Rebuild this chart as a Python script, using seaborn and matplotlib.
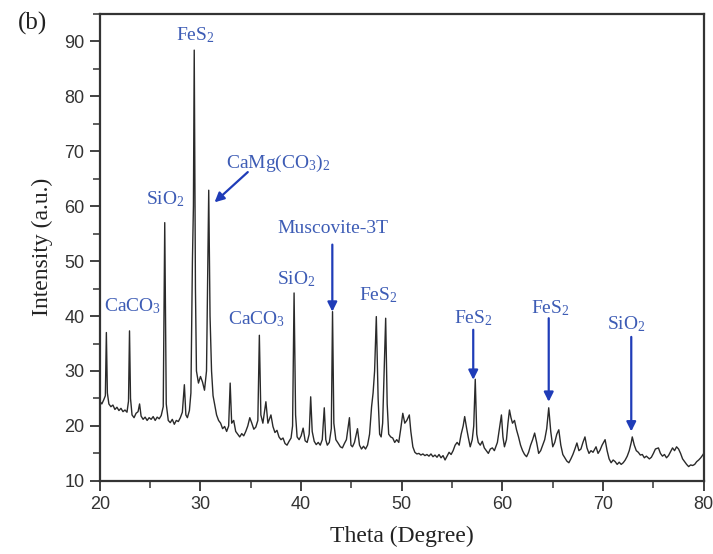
import numpy as np
import pandas as pd
import matplotlib
matplotlib.use("Agg")
import matplotlib.pyplot as plt
import seaborn as sns
from matplotlib.ticker import MultipleLocator

# ---------------- data ----------------
theta = [
    20.0, 20.2, 20.4, 20.55, 20.65, 20.75, 20.9, 21.1, 21.3, 21.5, 21.7, 21.9, 22.1, 22.3, 22.5, 22.7,
    22.85, 22.95, 23.05, 23.2, 23.4, 23.6, 23.8, 23.95, 24.1, 24.3, 24.5, 24.7, 24.9, 25.1, 25.3, 25.5,
    25.7, 25.9, 26.1, 26.3, 26.45, 26.6, 26.8, 27.0, 27.2, 27.4, 27.6, 27.8, 28.0, 28.2, 28.4, 28.55,
    28.7, 28.9, 29.05, 29.2, 29.3, 29.38, 29.5, 29.6, 29.8, 30.0, 30.2, 30.4, 30.6, 30.7, 30.82, 30.95,
    31.1, 31.25, 31.4, 31.6, 31.8, 32.0, 32.2, 32.4, 32.6, 32.8, 32.95, 33.1, 33.3, 33.5, 33.7, 33.9,
    34.1, 34.3, 34.5, 34.7, 34.9, 35.1, 35.3, 35.5, 35.7, 35.85, 36.0, 36.2, 36.5, 36.7, 36.9, 37.0,
    37.2, 37.4, 37.6, 37.8, 38.0, 38.2, 38.4, 38.6, 38.8, 39.0, 39.15, 39.3, 39.45, 39.6, 39.8, 40.0,
    40.2, 40.4, 40.6, 40.8, 40.95, 41.1, 41.3, 41.5, 41.7, 41.9, 42.1, 42.3, 42.45, 42.6, 42.8, 43.0,
    43.12, 43.25, 43.45, 43.7, 43.9, 44.1, 44.3, 44.5, 44.8, 44.95, 45.1, 45.3, 45.6, 45.8, 46.0, 46.2,
    46.4, 46.6, 46.8, 47.0, 47.15, 47.3, 47.47, 47.65, 47.8, 47.95, 48.1, 48.25, 48.4, 48.55, 48.7, 48.9,
    49.1, 49.3, 49.5, 49.7, 49.9, 50.1, 50.3, 50.5, 50.75, 50.9, 51.1, 51.3, 51.5, 51.7, 51.9, 52.1,
    52.3, 52.5, 52.7, 52.9, 53.1, 53.3, 53.5, 53.7, 53.9, 54.1, 54.3, 54.5, 54.7, 54.9, 55.1, 55.3,
    55.5, 55.7, 55.9, 56.1, 56.25, 56.45, 56.6, 56.8, 57.0, 57.15, 57.3, 57.45, 57.6, 57.8, 58.0, 58.2,
    58.4, 58.6, 58.8, 59.0, 59.2, 59.5, 59.7, 59.9, 60.05, 60.2, 60.4, 60.55, 60.7, 60.85, 61.0, 61.2,
    61.4, 61.6, 61.8, 62.0, 62.2, 62.4, 62.6, 62.8, 63.0, 63.2, 63.4, 63.6, 63.8, 64.0, 64.2, 64.4,
    64.6, 64.8, 65.0, 65.2, 65.4, 65.6, 65.8, 66.0, 66.2, 66.4, 66.6, 66.8, 67.0, 67.2, 67.4, 67.6,
    67.8, 68.0, 68.2, 68.4, 68.6, 68.8, 69.0, 69.3, 69.5, 69.7, 69.9, 70.2, 70.4, 70.6, 70.8, 71.0,
    71.2, 71.4, 71.6, 71.8, 72.0, 72.2, 72.4, 72.6, 72.8, 72.9, 73.1, 73.3, 73.5, 73.7, 73.9, 74.1,
    74.3, 74.6, 74.8, 75.0, 75.2, 75.5, 75.7, 75.9, 76.1, 76.3, 76.5, 76.7, 76.9, 77.1, 77.3, 77.5,
    77.7, 77.9, 78.1, 78.3, 78.5, 78.7, 78.9, 79.1, 79.3, 79.5, 79.7, 79.9, 80.0,
]
intensity = [
    24.5, 24.0, 24.8, 25.5, 37.0, 26.0, 24.0, 23.5, 23.8, 23.0, 23.4, 22.8, 23.2, 22.6, 22.9, 22.5,
    24.5, 37.3, 25.0, 22.0, 21.5, 22.3, 22.6, 24.0, 21.8, 21.2, 21.6, 21.0, 21.5, 21.2, 21.7, 21.0,
    21.6, 21.3, 21.9, 23.5, 57.0, 24.0, 21.0, 20.6, 21.2, 20.3, 21.0, 20.8, 21.5, 22.5, 27.5, 22.0,
    21.5, 22.8, 26.0, 50.0, 60.0, 88.4, 45.0, 30.0, 27.8, 29.0, 28.0, 26.5, 30.0, 45.0, 62.9, 40.0,
    30.0, 25.5, 24.0, 22.0, 21.0, 20.5, 19.5, 19.9, 19.0, 20.0, 27.8, 20.5, 21.0, 19.0, 18.5, 18.0,
    18.6, 18.2, 19.0, 20.0, 21.5, 20.5, 19.4, 19.8, 21.0, 36.5, 22.0, 20.5, 24.4, 20.5, 21.5, 22.0,
    19.9, 18.8, 19.2, 18.0, 17.5, 17.8, 16.8, 16.5, 17.2, 17.8, 20.0, 44.2, 22.0, 18.0, 17.5, 18.2,
    19.6, 17.3, 17.0, 18.5, 25.3, 19.0, 17.2, 16.6, 17.0, 16.5, 17.5, 23.3, 17.5, 16.5, 17.0, 19.5,
    40.8, 20.5, 17.5, 16.8, 16.2, 16.0, 16.8, 17.5, 21.5, 16.5, 16.2, 17.0, 19.5, 16.5, 15.8, 16.3,
    15.8, 16.5, 18.5, 23.5, 26.0, 30.0, 39.9, 25.0, 18.5, 18.0, 20.5, 30.0, 39.6, 24.0, 18.5, 18.0,
    17.8, 17.0, 17.5, 17.0, 19.5, 22.3, 20.5, 21.0, 22.0, 19.0, 16.2, 15.2, 14.9, 15.0, 14.7, 14.9,
    14.6, 14.8, 14.5, 14.9, 14.4, 14.7, 14.3, 14.8, 14.2, 14.6, 13.8, 14.5, 15.2, 14.8, 15.5, 16.5,
    17.0, 16.5, 18.5, 20.0, 21.7, 19.5, 18.0, 16.2, 17.5, 20.0, 28.5, 18.5, 17.0, 16.5, 17.2, 16.0,
    15.5, 15.0, 15.8, 16.0, 15.5, 17.0, 19.5, 22.0, 18.0, 16.2, 17.5, 20.5, 22.9, 21.5, 20.5, 21.0,
    19.3, 18.0, 16.5, 15.5, 14.8, 14.4, 15.2, 16.5, 17.5, 18.7, 17.0, 15.0, 15.5, 16.5, 17.5, 19.5,
    23.3, 19.0, 16.2, 17.0, 18.5, 19.3, 16.5, 14.8, 14.2, 13.6, 13.3, 14.0, 14.8, 15.8, 16.9, 15.5,
    15.8, 17.0, 18.0, 16.0, 15.0, 15.5, 15.2, 16.2, 15.0, 15.6, 16.5, 17.5, 15.5, 14.0, 13.3, 13.8,
    13.5, 13.0, 13.4, 13.0, 13.3, 13.8, 14.5, 15.5, 17.0, 18.0, 16.5, 15.5, 15.2, 14.7, 14.8, 14.2,
    14.5, 14.0, 14.3, 15.0, 15.8, 16.0, 15.0, 14.5, 14.8, 14.2, 14.6, 15.3, 16.0, 15.5, 16.2, 15.8,
    15.0, 14.0, 13.5, 13.0, 12.6, 12.9, 12.8, 13.0, 13.5, 13.8, 14.2, 14.7, 15.0,
]

# peak labels: text, text x, text y
label_texts = ["CaCO$_3$", "SiO$_2$", "FeS$_2$", "CaCO$_3$", "SiO$_2$", "FeS$_2$"]
label_x = [23.3, 26.55, 29.5, 35.6, 39.5, 47.7]
label_y = [41.8, 61.3, 91.1, 39.4, 46.7, 43.8]

# arrowed labels: text, text position, arrow start, arrow tip
arrow_texts = ["CaMg(CO$_3$)$_2$", "Muscovite-3T", "FeS$_2$", "FeS$_2$", "SiO$_2$"]
arrow_text_x = [37.7, 43.2, 57.1, 64.8, 72.3]
arrow_text_y = [67.8, 56.0, 39.6, 41.5, 38.5]
arrow_start_x = [34.7, 43.1, 57.1, 64.6, 72.8]
arrow_start_y = [66.2, 53.0, 37.5, 39.6, 36.2]
arrow_tip_x = [31.4, 43.1, 57.1, 64.6, 72.8]
arrow_tip_y = [60.7, 40.8, 28.4, 24.4, 19.0]

df = pd.DataFrame({"theta": theta, "intensity": intensity})

# ---------------- style ----------------
sns.set_theme(style="ticks")
plt.rcParams["font.family"] = ["Liberation Sans", "DejaVu Sans"]
plt.rcParams["mathtext.fontset"] = "custom"
plt.rcParams["mathtext.rm"] = "Liberation Serif"
plt.rcParams["mathtext.it"] = "Liberation Serif:italic"

fig = plt.figure(figsize=(7.13, 5.54), dpi=100)
ax = fig.add_axes([0.140, 0.132, 0.847, 0.843])

sns.lineplot(data=df, x="theta", y="intensity", ax=ax, color="#2a2a2a",
             linewidth=1.0, estimator=None, sort=False)

ax.set_xlim(20, 80)
ax.set_ylim(10, 95)
ax.xaxis.set_major_locator(MultipleLocator(10))
ax.xaxis.set_minor_locator(MultipleLocator(5))
ax.yaxis.set_major_locator(MultipleLocator(10))
ax.yaxis.set_minor_locator(MultipleLocator(5))
ax.tick_params(which="major", direction="out", length=7, width=1.3,
               labelsize=13, colors="#333333", pad=4)
ax.tick_params(which="minor", direction="out", length=5, width=1.1, colors="#333333")
for s in ax.spines.values():
    s.set_visible(True)
    s.set_linewidth(1.6)
    s.set_color("#333333")

serif = ["Liberation Serif", "DejaVu Serif"]
ax.set_xlabel("Theta (Degree)", fontsize=17, family=serif, color="#222222", labelpad=9)
ax.set_ylabel("Intensity (a.u.)", fontsize=17, family=serif, color="#222222", labelpad=8)

fig.text(0.045, 0.958, "(b)", fontsize=18, family=serif, color="#222222",
         ha="center", va="center")

txt_color = "#3d5cb5"
arr_color = "#1f3cb8"
for t, x, y in zip(label_texts, label_x, label_y):
    ax.text(x, y, t, fontsize=14, family=serif, color=txt_color, ha="center", va="center")

for t, tx, ty, sx, sy, ex, ey in zip(arrow_texts, arrow_text_x, arrow_text_y,
                                     arrow_start_x, arrow_start_y, arrow_tip_x, arrow_tip_y):
    ax.text(tx, ty, t, fontsize=14, family=serif, color=txt_color, ha="center", va="center")
    ax.annotate("", xy=(ex, ey), xytext=(sx, sy),
                arrowprops=dict(arrowstyle="-|>", color=arr_color, lw=1.6,
                                mutation_scale=14, shrinkA=0, shrinkB=0))

fig.savefig("out.png", dpi=100)
